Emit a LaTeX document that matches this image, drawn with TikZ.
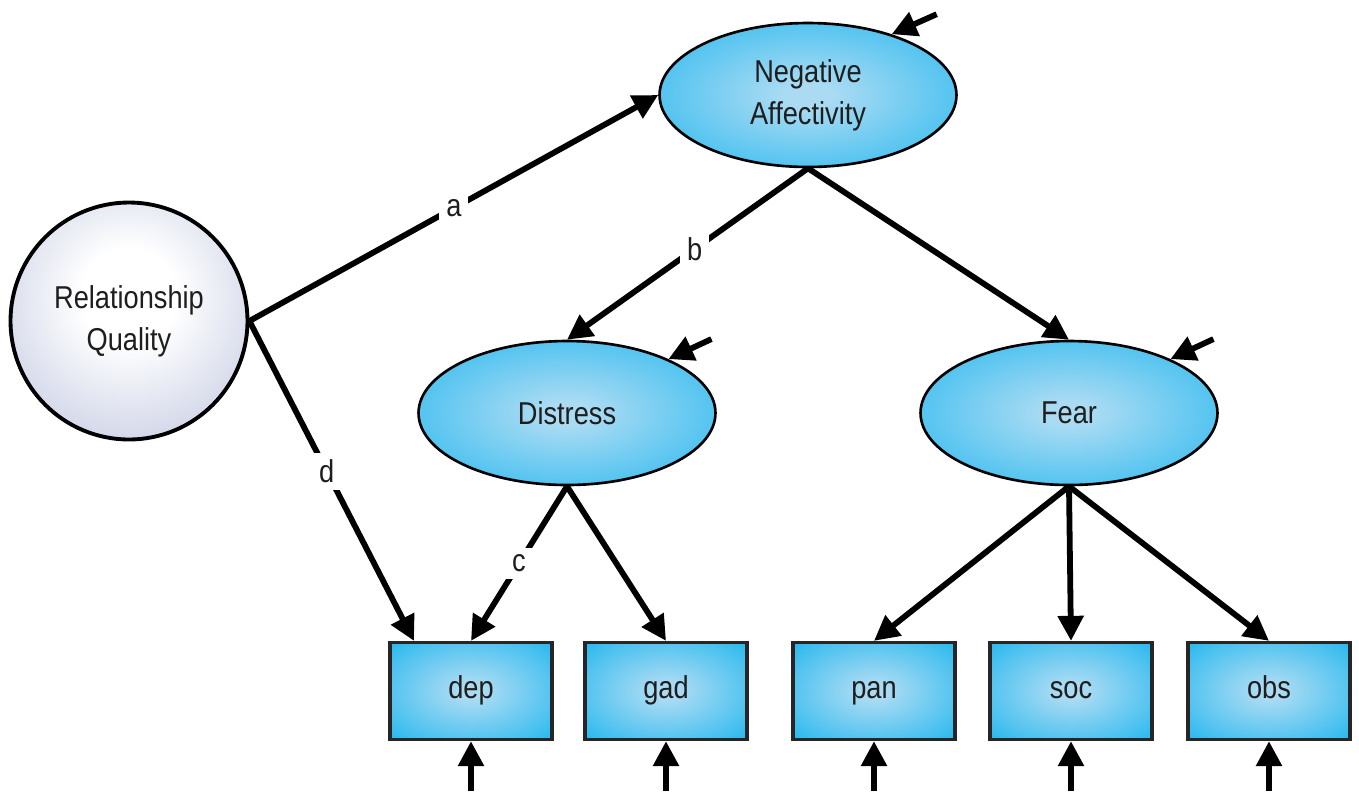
\documentclass[tikz,border=0pt]{standalone}
\usepackage{fontspec}
\setmainfont{Liberation Sans}[FakeStretch=0.86]
\usetikzlibrary{arrows.meta,shapes.geometric,calc}
\definecolor{glowin}{RGB}{170,219,243}
\definecolor{glowmid}{RGB}{80,195,240}
\definecolor{glowout}{RGB}{0,174,236}
\definecolor{pearlmid}{RGB}{205,210,230}
\definecolor{pearledge}{RGB}{145,151,182}
\definecolor{inktext}{RGB}{30,30,30}
\pgfdeclareradialshading{cyanglow}{\pgfpoint{0bp}{0bp}}{color(0bp)=(glowin); color(4bp)=(glowin); color(26bp)=(glowmid); color(44bp)=(glowout); color(100bp)=(glowout)}
\pgfdeclareradialshading{pearl}{\pgfpoint{0bp}{6bp}}{color(0bp)=(white); color(10bp)=(white); color(32bp)=(pearlmid); color(50bp)=(pearledge); color(100bp)=(pearledge)}
\tikzset{
  txt/.style={font=\fontsize{18}{24}\selectfont, text=inktext, align=center},
  latent/.style={txt, ellipse, draw, line width=1.5pt, shade, shading=cyanglow, minimum width=5.94cm, minimum height=2.88cm},
  sphere/.style={txt, circle, draw, line width=2.2pt, shade, shading=pearl, minimum size=4.74cm},
  indicator/.style={txt, rectangle, draw=black!85, line width=1.9pt, shade, shading=cyanglow, minimum width=3.24cm, minimum height=1.94cm, text height=1.9ex, text depth=0.3ex},
  effect/.style={line width=3.3pt, -{Triangle[length=0.5cm,width=0.5cm]}},
  coef/.style={txt, fill=white, inner sep=4pt},
}
\begin{document}
\begin{tikzpicture}[x=0.02cm, y=-0.02cm]
\useasboundingbox (0,0) rectangle (1359,796);
% latent variables
\node[sphere] (rq) at (129,321) {Relationship\\Quality};
\node[latent] (na) at (808,95) {Negative\\Affectivity};
\node[latent] (dis) at (567,413) {Distress};
\node[latent] (fear) at (1069,413) {Fear};
% indicators
\node[indicator] (dep) at (471,691) {dep};
\node[indicator] (gad) at (666,691) {gad};
\node[indicator] (pan) at (874,691) {pan};
\node[indicator] (soc) at (1071,691) {soc};
\node[indicator] (obs) at (1269,691) {obs};
% structural paths
\draw[effect] (rq.east) -- node[coef]{a} (na.west);
\draw[effect] (rq.east) -- node[coef,pos=0.47]{d} ($(dep.north west)!0.155!(dep.north east)$);
\draw[effect] (na.south) -- node[coef,pos=0.47]{b} (dis.north);
\draw[effect] (na.south) -- (fear.north);
\draw[effect] (dis.south) -- node[coef]{c} (dep.north);
\draw[effect] (dis.south) -- (gad.north);
\foreach \ind in {pan,soc,obs}
  \draw[effect] (fear.south) -- (\ind.north);
% disturbances
\coordinate (ena) at ([shift={(45,-20)}]na.36);
\coordinate (edis) at ([shift={(43,-20)}]dis.28);
\coordinate (efear) at ([shift={(43,-20)}]fear.28);
\draw[effect] (ena) -- (na.36);
\draw[effect] (edis) -- (dis.28);
\draw[effect] (efear) -- (fear.28);
\foreach \ind in {dep,gad,pan,soc,obs}{
  \coordinate (e\ind) at ([shift={(0,50)}]\ind.south);
  \draw[effect] (e\ind) -- (\ind.south);
}
\end{tikzpicture}
\end{document}
